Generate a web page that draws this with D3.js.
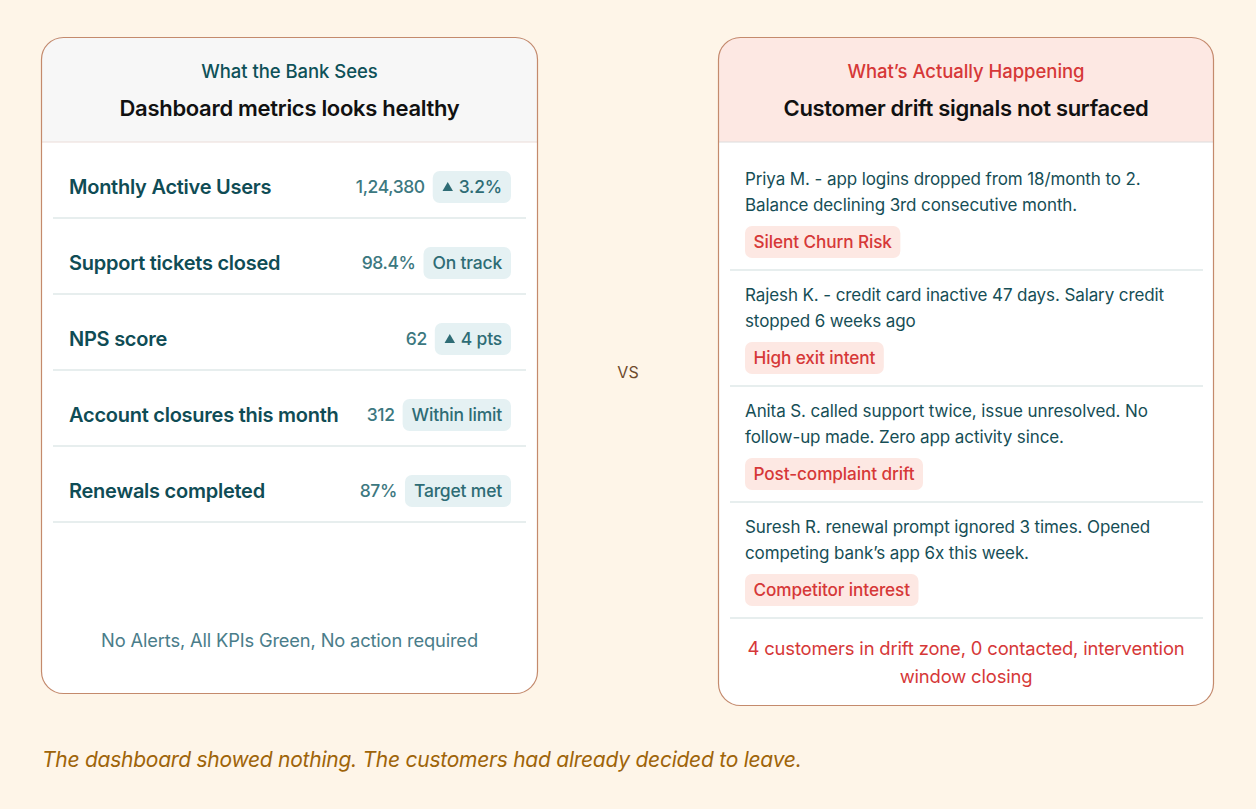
<!DOCTYPE html>
<html><head><meta charset="utf-8">
<script src="https://cdn.jsdelivr.net/npm/d3@7"></script>
<style>
html,body{margin:0;padding:0;background:#FEF5E8;}
svg{display:block;font-family:Inter,"Open Sans",sans-serif;}
</style></head>
<body><svg id="c" width="1256" height="809"></svg>
<script>
// ---- data ----
const leftSubtitle = "What the Bank Sees";
const leftTitle = "Dashboard metrics looks healthy";
const metricLabels = ["Monthly Active Users","Support tickets closed","NPS score","Account closures this month","Renewals completed"];
const metricValues = ["1,24,380","98.4%","62","312","87%"];
const metricBadges = ["3.2%","On track","4 pts","Within limit","Target met"];
const metricArrow = [true,false,true,false,false];
const leftFooter = "No Alerts, All KPIs Green, No action required";

const rightSubtitle = "What\u2019s Actually Happening";
const rightTitle = "Customer drift signals not surfaced";
const customerNotes = [
  ["Priya M. - app logins dropped from 18/month to 2.","Balance declining 3rd consecutive month."],
  ["Rajesh K. - credit card inactive 47 days. Salary credit","stopped 6 weeks ago"],
  ["Anita S. called support twice, issue unresolved. No","follow-up made. Zero app activity since."],
  ["Suresh R. renewal prompt ignored 3 times. Opened","competing bank\u2019s app 6x this week."]
];
const customerTags = ["Silent Churn Risk","High exit intent","Post-complaint drift","Competitor interest"];
const rightFooter = ["4 customers in drift zone, 0 contacted, intervention","window closing"];
const vsLabel = "VS";
const caption = "The dashboard showed nothing. The customers had already decided to leave.";

// ---- drawing ----
const svg = d3.select("#c");
const border = "#C48A6C";
const teal = "#0F4C55";

function card(x, y, w, h, headFill, headH, sepColor){
  const g = svg.append("g").attr("transform",`translate(${x},${y})`);
  const r = 22;
  g.append("defs").append("clipPath").attr("id","clip"+x)
    .append("rect").attr("width",w).attr("height",h).attr("rx",r);
  g.append("rect").attr("width",w).attr("height",h).attr("rx",r).attr("fill","#fff");
  g.append("rect").attr("width",w).attr("height",headH).attr("fill",headFill).attr("clip-path",`url(#clip${x})`);
  g.append("line").attr("x1",0).attr("x2",w).attr("y1",headH).attr("y2",headH).attr("stroke",sepColor).attr("stroke-width",1);
  g.append("rect").attr("x",0.5).attr("y",0.5).attr("width",w-1).attr("height",h-1).attr("rx",r)
    .attr("fill","none").attr("stroke",border).attr("stroke-width",1.2);
  return g;
}

// Left card
const L = card(41, 37, 497, 657, "#F7F7F7", 105, "#EBDCD8");
L.append("text").attr("x",248.5).attr("y",41).attr("text-anchor","middle")
  .attr("font-size",18.5).attr("font-weight",500).attr("fill","#0E5158").attr("letter-spacing",-0.05).text(leftSubtitle);
L.append("text").attr("x",248.5).attr("y",79).attr("text-anchor","middle")
  .attr("font-size",22).attr("font-weight",600).attr("fill","#111").attr("letter-spacing",-0.3).text(leftTitle);

const rowY = d3.scaleBand().domain(d3.range(metricLabels.length)).range([105, 105+380]).paddingInner(0);
metricLabels.forEach((lab,i)=>{
  const top = rowY(i), bh = rowY.bandwidth();
  const cy = top + bh/2 + 7;
  const row = L.append("g");
  row.append("text").attr("x",28).attr("y",cy+7).attr("font-size",20).attr("font-weight",600)
    .attr("fill",teal).attr("letter-spacing",-0.25).text(lab);
  const bg = row.append("g");
  const bt = bg.append("text").attr("font-size",17.5).attr("font-weight",500).attr("fill","#2E6C75")
    .attr("letter-spacing",-0.2).text(metricBadges[i]);
  const tw = bt.node().getComputedTextLength();
  const arrowW = metricArrow[i] ? 17 : 0;
  const bw = tw + arrowW + 18;
  const bx = 470 - bw;
  bg.insert("rect","text").attr("x",bx).attr("y",cy-16).attr("width",bw).attr("height",32).attr("rx",7).attr("fill","#E5F1F3");
  bt.attr("x",bx+9+arrowW).attr("y",cy+6);
  if(metricArrow[i]){
    bg.append("path").attr("d",d3.symbol(d3.symbolTriangle, 48)())
      .attr("transform",`translate(${bx+15},${cy+1})`).attr("fill","#2E6C75");
  }
  row.append("text").attr("x",bx-8).attr("y",cy+6).attr("text-anchor","end").attr("font-size",17.5)
    .attr("font-weight",500).attr("fill","#3C7880").attr("letter-spacing",-0.4).text(metricValues[i]);
  row.append("line").attr("x1",12).attr("x2",485).attr("y1",top+bh).attr("y2",top+bh)
    .attr("stroke","#CFDDDD").attr("stroke-width",1.2);
});
L.append("text").attr("x",248.5).attr("y",610).attr("text-anchor","middle")
  .attr("font-size",18.3).attr("fill","#4A7D8A").attr("letter-spacing",-0.15).text(leftFooter);

// VS
svg.append("text").attr("x",628).attr("y",378).attr("text-anchor","middle").attr("font-size",16)
  .attr("fill","#6E4A2C").text(vsLabel);

// Right card
const R = card(718, 37, 496, 669, "#FDE8E3", 105, "#DCDCDC");
R.append("text").attr("x",248).attr("y",41).attr("text-anchor","middle")
  .attr("font-size",18.5).attr("font-weight",500).attr("fill","#D63838").attr("letter-spacing",-0.05).text(rightSubtitle);
R.append("text").attr("x",248).attr("y",79).attr("text-anchor","middle")
  .attr("font-size",22).attr("font-weight",600).attr("fill","#111").attr("letter-spacing",-0.3).text(rightTitle);

const itemY = d3.scaleBand().domain(d3.range(customerNotes.length)).range([105, 105+464]);
customerNotes.forEach((lines,i)=>{
  const top = itemY(i), bh = itemY.bandwidth();
  const g = R.append("g");
  lines.forEach((ln,j)=>{
    g.append("text").attr("x",27).attr("y",top+43+j*26).attr("font-size",17).attr("fill","#164E56")
      .attr("letter-spacing",-0.1).text(ln);
  });
  const t = g.append("text").attr("font-size",17.2).attr("font-weight",500).attr("fill","#D63838")
    .attr("letter-spacing",-0.1).text(customerTags[i]);
  const tw = t.node().getComputedTextLength();
  g.insert("rect","text").attr("x",27).attr("y",top+84).attr("width",tw+17).attr("height",32).attr("rx",7).attr("fill","#FDE8E3");
  t.attr("x",35.5).attr("y",top+106);
  g.append("line").attr("x1",12).attr("x2",485).attr("y1",top+128).attr("y2",top+128)
    .attr("stroke","#CFDDDD").attr("stroke-width",1.2);
});
rightFooter.forEach((ln,j)=>{
  R.append("text").attr("x",248).attr("y",618+j*28).attr("text-anchor","middle").attr("font-size",18.4)
    .attr("fill","#D63838").attr("letter-spacing",-0.15).text(ln);
});

// caption
svg.append("text").attr("x",42).attr("y",767).attr("font-size",21).attr("font-style","italic")
  .attr("fill","#9E6409").attr("letter-spacing",-0.25).text(caption);
</script></body></html>
